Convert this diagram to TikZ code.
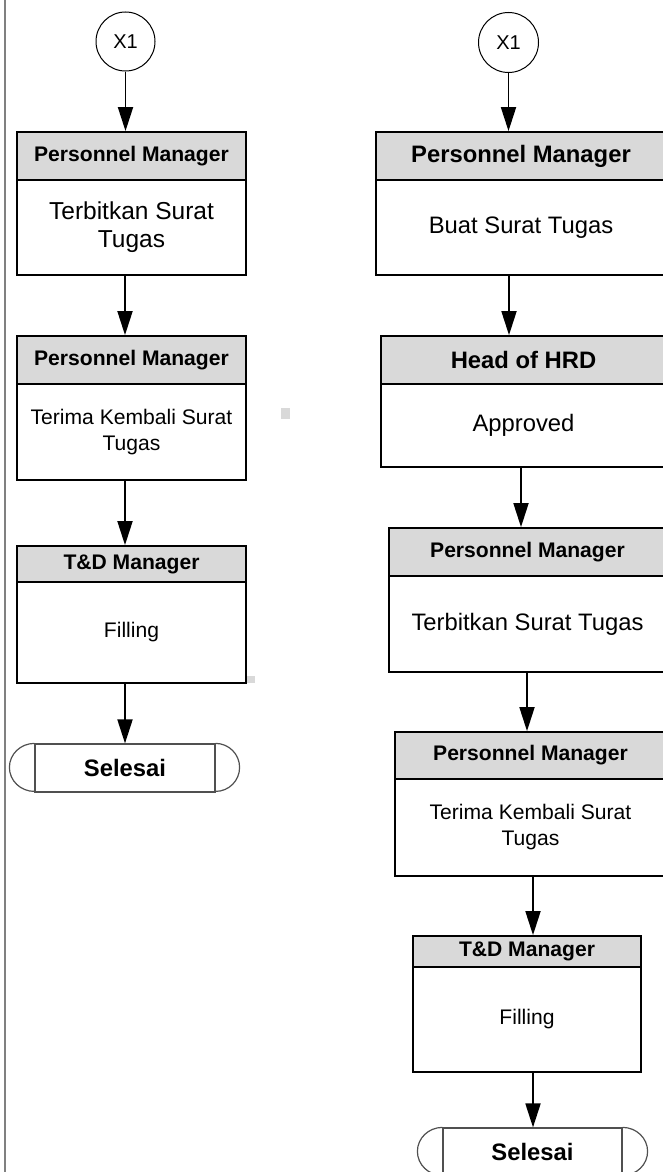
\documentclass[tikz,border=0pt]{standalone}
\usepackage{fontspec}
\setmainfont{Liberation Sans}
\usetikzlibrary{arrows.meta}
\definecolor{hdrgray}{HTML}{D9D9D9}
\definecolor{edgegray}{HTML}{808080}
\definecolor{termgray}{HTML}{505050}
\newcommand{\fsM}{\fontsize{21.1pt}{26pt}\selectfont}
\newcommand{\fsL}{\fontsize{23.8pt}{28pt}\selectfont}
\newcommand{\fsB}{\fontsize{24.5pt}{28pt}\selectfont}
\newcommand{\fsX}{\fontsize{20pt}{23pt}\selectfont}
\begin{document}
\begin{tikzpicture}[x=1pt,y=-1pt,
  hdr/.style={draw=black, line width=1.8pt, fill=hdrgray, inner sep=0pt, rectangle},
  bodybox/.style={draw=black, line width=1.8pt, fill=white, inner sep=0pt, rectangle, align=center},
  conn/.style={draw=black, line width=1pt, circle, inner sep=0pt, fill=white, font=\fsX},
  arr/.style={draw=black, line width=1.8pt, -{Triangle[length=24pt,width=15pt]}},
  term/.style={draw=termgray, line width=1.2pt, inner sep=0pt, rectangle, font=\bfseries\fsL},
  termarc/.style={draw=termgray, line width=1.2pt}]
\useasboundingbox (0,0) rectangle (663,1172);
\clip (0,0) rectangle (663,1172);
\fill[white] (0,0) rectangle (663,1172);
\draw[edgegray, line width=2pt] (5,0) -- (5,1172);
\fill[hdrgray] (281,408) rectangle (290,419);
\fill[hdrgray] (246,676) rectangle (255,683);

% left column
\node[conn, minimum size=59pt] (LC) at (125.5,41.5) {X1};
\node[hdr, font=\bfseries\fsM, minimum width=229pt, minimum height=48pt] (L1h) at (131.5,156) {Personnel Manager};
\node[bodybox, font=\fsB, minimum width=229pt, minimum height=95pt] (L1b) at (131.5,227.5) {Terbitkan Surat\\Tugas};
\node[hdr, font=\bfseries\fsM, minimum width=229pt, minimum height=48pt] (L2h) at (131.5,360) {Personnel Manager};
\node[bodybox, font=\fsM, minimum width=229pt, minimum height=96pt] (L2b) at (131.5,432) {Terima Kembali Surat\\Tugas};
\node[hdr, font=\bfseries\fsM, minimum width=229pt, minimum height=36pt] (L3h) at (131.5,564) {T\&D Manager};
\node[bodybox, font=\fsM, minimum width=229pt, minimum height=101pt] (L3b) at (131.5,632.5) {Filling};
\node[term, minimum width=180pt, minimum height=48pt] (LS) at (125,768) {Selesai};
\draw[termarc] (LS.north west) arc[start angle=90, end angle=270, x radius=25pt, y radius=24pt];
\draw[termarc] (LS.north east) arc[start angle=90, end angle=-90, x radius=24pt, y radius=24pt];

\draw[arr] (LC.south) -- (LC.south |- L1h.north);
\draw[arr] ([xshift=-6.5pt]L1b.south) -- ([xshift=-6.5pt]L1b.south |- L2h.north);
\draw[arr] ([xshift=-6.5pt]L2b.south) -- ([xshift=-6.5pt]L2b.south |- L3h.north);
\draw[arr] ([xshift=-6.5pt]L3b.south) -- ([xshift=-6.5pt]L3b.south |- LS.north);

% right column
\node[conn, minimum size=60pt] (RC) at (508.5,42.5) {X1};
\node[hdr, font=\bfseries\fsL, minimum width=290pt, minimum height=48pt] (R1h) at (521,156) {Personnel Manager};
\node[bodybox, font=\fsL, minimum width=290pt, minimum height=95pt] (R1b) at (521,227.5) {Buat Surat Tugas};
\node[hdr, font=\bfseries\fsL, minimum width=285pt, minimum height=48pt] (R2h) at (523.5,360) {Head of HRD};
\node[bodybox, font=\fsL, minimum width=285pt, minimum height=83pt] (R2b) at (523.5,425.5) {Approved};
\node[hdr, font=\bfseries\fsM, minimum width=277pt, minimum height=48pt] (R3h) at (527.5,552) {Personnel Manager};
\node[bodybox, font=\fsL, minimum width=277pt, minimum height=96pt] (R3b) at (527.5,624) {Terbitkan Surat Tugas};
\node[hdr, font=\bfseries\fsM, minimum width=271pt, minimum height=47pt] (R4h) at (530.5,755.5) {Personnel Manager};
\node[bodybox, font=\fsM, minimum width=271pt, minimum height=97pt] (R4b) at (530.5,827.5) {Terima Kembali Surat\\Tugas};
\node[hdr, font=\bfseries\fsM, minimum width=228pt, minimum height=31pt] (R5h) at (527,951.5) {T\&D Manager};
\node[bodybox, font=\fsM, minimum width=228pt, minimum height=105pt] (R5b) at (527,1019.5) {Filling};
\node[term, minimum width=179pt, minimum height=48pt] (RS) at (532.5,1152) {Selesai};
\draw[termarc] (RS.north west) arc[start angle=90, end angle=270, x radius=25pt, y radius=24pt];
\draw[termarc] (RS.north east) arc[start angle=90, end angle=-90, x radius=25pt, y radius=24pt];

\draw[arr] (RC.south) -- (RC.south |- R1h.north);
\draw[arr] ([xshift=-12pt]R1b.south) -- ([xshift=-12pt]R1b.south |- R2h.north);
\draw[arr] ([xshift=-2.5pt]R2b.south) -- ([xshift=-2.5pt]R2b.south |- R3h.north);
\draw[arr] ([xshift=-0.5pt]R3b.south) -- ([xshift=-0.5pt]R3b.south |- R4h.north);
\draw[arr] ([xshift=2.5pt]R4b.south) -- ([xshift=2.5pt]R4b.south |- R5h.north);
\draw[arr] ([xshift=6pt]R5b.south) -- ([xshift=6pt]R5b.south |- RS.north);
\end{tikzpicture}
\end{document}
